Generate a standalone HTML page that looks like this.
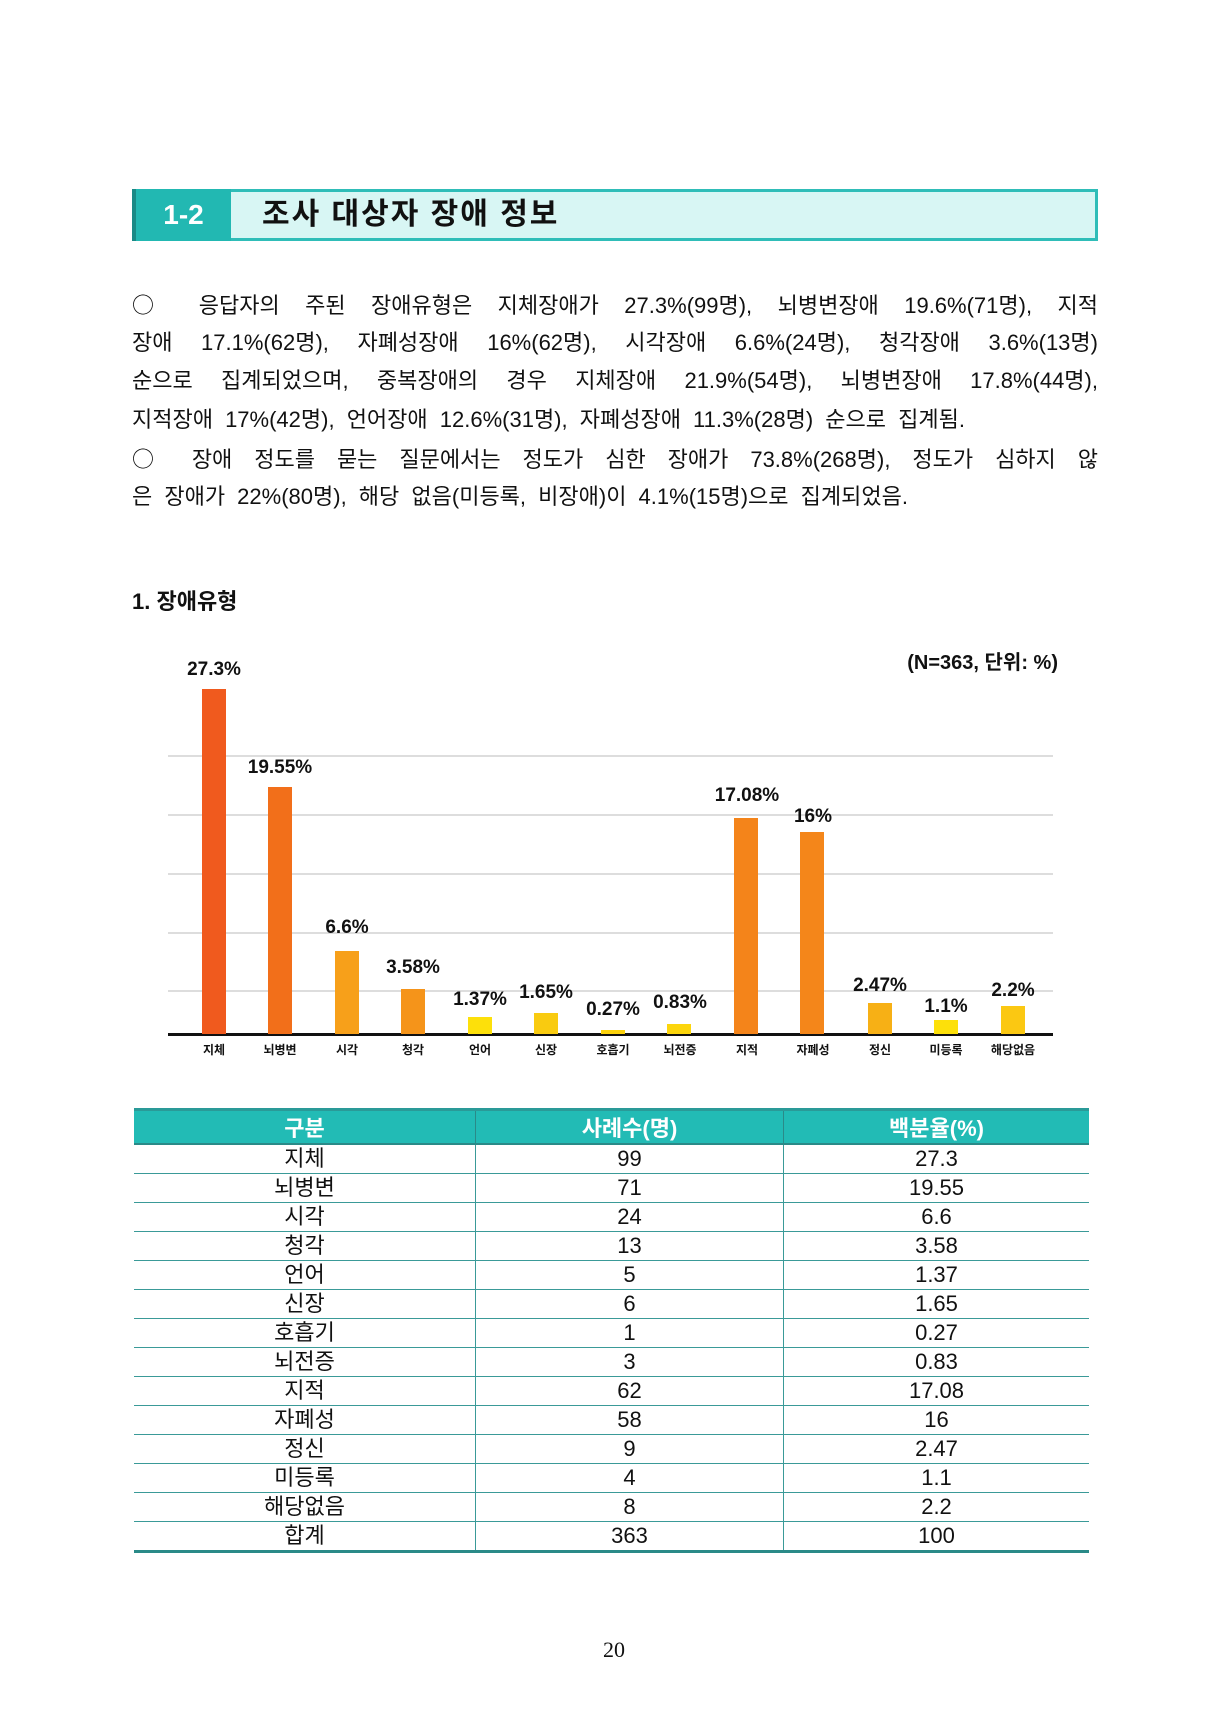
<!DOCTYPE html>
<html><head><meta charset="utf-8"><style>
body{margin:0;width:1225px;height:1718px;background:#fff;position:relative;overflow:hidden;font-family:"Liberation Sans","Noto Sans CJK KR",sans-serif;color:#111}
.a{position:absolute}
.p{position:absolute;left:132px;width:966px;font-size:22px;line-height:38.5px;text-align:justify;text-align-last:justify}
.o{font-family:"Noto Sans CJK KR",sans-serif;font-size:22px}
.bar{position:absolute;width:24px}
.vl{position:absolute;font-size:19px;font-weight:bold;width:100px;margin-left:-50px;text-align:center}
.cl{position:absolute;top:1044px;font-size:12px;font-weight:bold;width:80px;margin-left:-40px;text-align:center}
.g{position:absolute;left:168px;width:885px;height:2px;background:#ddd}
#ch{position:absolute;left:0;top:-3px;width:1225px;height:1100px}
table{position:absolute;left:134px;top:1108px;width:955px;border-collapse:collapse;font-size:22px}
td{height:28px;padding:0;text-align:center;line-height:26px;border-bottom:1.5px solid #3a9a98;border-left:1px solid #3a9a98}
td:first-child{border-left:none}
th{background:#22bbb5;color:#fff;height:28px;padding:0;font-weight:bold;font-size:22px;border-top:3px solid #2a9a98;border-bottom:2px solid #2a8a88;border-left:1px solid #2a8a88}
th:first-child{border-left:none}
tr:last-child td{border-bottom:3px solid #2a8a88}
</style></head><body>
<div class="a" style="left:132px;top:189px;width:966px;height:52px;background:#d8f6f4;border:3px solid #2fbdb8;box-sizing:border-box"></div>
<div class="a" style="left:132px;top:189px;width:99px;height:52px;background:#22b8b2;border-left:4px solid #1a8a86;box-sizing:border-box;color:#fff;font-size:28px;font-weight:bold;line-height:52px;text-align:center">1-2</div>
<div class="a" style="left:262px;top:189px;line-height:52px;font-size:30px;font-weight:bold;letter-spacing:2px">조사 대상자 장애 정보</div>

<div class="p" style="top:285px"><span class="o">○</span> 응답자의 주된 장애유형은 지체장애가 27.3%(99명), 뇌병변장애 19.6%(71명), 지적</div>
<div class="p" style="top:323.5px">장애 17.1%(62명), 자폐성장애 16%(62명), 시각장애 6.6%(24명), 청각장애 3.6%(13명)</div>
<div class="p" style="top:362px">순으로 집계되었으며, 중복장애의 경우 지체장애 21.9%(54명), 뇌병변장애 17.8%(44명),</div>
<div class="p" style="top:400.5px;text-align-last:left;word-spacing:6px">지적장애 17%(42명), 언어장애 12.6%(31명), 자폐성장애 11.3%(28명) 순으로 집계됨.</div>
<div class="p" style="top:439px"><span class="o">○</span> 장애 정도를 묻는 질문에서는 정도가 심한 장애가 73.8%(268명), 정도가 심하지 않</div>
<div class="p" style="top:477.5px;text-align-last:left;word-spacing:6px">은 장애가 22%(80명), 해당 없음(미등록, 비장애)이 4.1%(15명)으로 집계되었음.</div>

<div class="a" style="left:132px;top:584px;font-size:22px;font-weight:bold">1. 장애유형</div>
<div id="ch">
<div class="a" style="left:858px;width:200px;text-align:right;top:649px;font-size:20px;font-weight:bold">(N=363, 단위: %)</div>

<div class="g" style="top:758px"></div><div class="g" style="top:817px"></div><div class="g" style="top:876px"></div><div class="g" style="top:935px"></div><div class="g" style="top:993px"></div>
<div class="a" style="left:168px;top:1036px;width:885px;height:3px;background:#111"></div>

<div class="bar" style="left:202px;top:692px;height:345px;background:#f05a1e"></div>
<div class="bar" style="left:268px;top:790px;height:247px;background:#f26f1a"></div>
<div class="bar" style="left:335px;top:954px;height:83px;background:#f7a01a"></div>
<div class="bar" style="left:401px;top:992px;height:45px;background:#f5941a"></div>
<div class="bar" style="left:468px;top:1020px;height:17px;background:#fde00a"></div>
<div class="bar" style="left:534px;top:1016px;height:21px;background:#f9cb10"></div>
<div class="bar" style="left:601px;top:1033px;height:4px;background:#fcd20c"></div>
<div class="bar" style="left:667px;top:1027px;height:10px;background:#fcd50c"></div>
<div class="bar" style="left:734px;top:821px;height:216px;background:#f4841a"></div>
<div class="bar" style="left:800px;top:835px;height:202px;background:#f4861a"></div>
<div class="bar" style="left:868px;top:1006px;height:31px;background:#f7b015"></div>
<div class="bar" style="left:934px;top:1023px;height:14px;background:#fde00a"></div>
<div class="bar" style="left:1001px;top:1009px;height:28px;background:#fbc812"></div>

<div class="vl" style="left:214px;top:662px">27.3%</div>
<div class="vl" style="left:280px;top:760px">19.55%</div>
<div class="vl" style="left:347px;top:920px">6.6%</div>
<div class="vl" style="left:413px;top:960px">3.58%</div>
<div class="vl" style="left:480px;top:992px">1.37%</div>
<div class="vl" style="left:546px;top:985px">1.65%</div>
<div class="vl" style="left:613px;top:1002px">0.27%</div>
<div class="vl" style="left:680px;top:995px">0.83%</div>
<div class="vl" style="left:747px;top:788px">17.08%</div>
<div class="vl" style="left:813px;top:809px">16%</div>
<div class="vl" style="left:880px;top:978px">2.47%</div>
<div class="vl" style="left:946px;top:999px">1.1%</div>
<div class="vl" style="left:1013px;top:983px">2.2%</div>

<div class="cl" style="left:214px">지체</div><div class="cl" style="left:280px">뇌병변</div><div class="cl" style="left:347px">시각</div><div class="cl" style="left:413px">청각</div><div class="cl" style="left:480px">언어</div><div class="cl" style="left:546px">신장</div><div class="cl" style="left:613px">호흡기</div><div class="cl" style="left:680px">뇌전증</div><div class="cl" style="left:747px">지적</div><div class="cl" style="left:813px">자폐성</div><div class="cl" style="left:880px">정신</div><div class="cl" style="left:946px">미등록</div><div class="cl" style="left:1013px">해당없음</div>
</div>

<table>
<tr><th style="width:341px">구분</th><th style="width:307px">사례수(명)</th><th>백분율(%)</th></tr>
<tr><td>지체</td><td>99</td><td>27.3</td></tr>
<tr><td>뇌병변</td><td>71</td><td>19.55</td></tr>
<tr><td>시각</td><td>24</td><td>6.6</td></tr>
<tr><td>청각</td><td>13</td><td>3.58</td></tr>
<tr><td>언어</td><td>5</td><td>1.37</td></tr>
<tr><td>신장</td><td>6</td><td>1.65</td></tr>
<tr><td>호흡기</td><td>1</td><td>0.27</td></tr>
<tr><td>뇌전증</td><td>3</td><td>0.83</td></tr>
<tr><td>지적</td><td>62</td><td>17.08</td></tr>
<tr><td>자폐성</td><td>58</td><td>16</td></tr>
<tr><td>정신</td><td>9</td><td>2.47</td></tr>
<tr><td>미등록</td><td>4</td><td>1.1</td></tr>
<tr><td>해당없음</td><td>8</td><td>2.2</td></tr>
<tr><td>합계</td><td>363</td><td>100</td></tr>
</table>

<div class="a" style="left:564px;width:100px;text-align:center;top:1637px;font-family:'Liberation Serif',serif;font-size:22px">20</div>
</body></html>
